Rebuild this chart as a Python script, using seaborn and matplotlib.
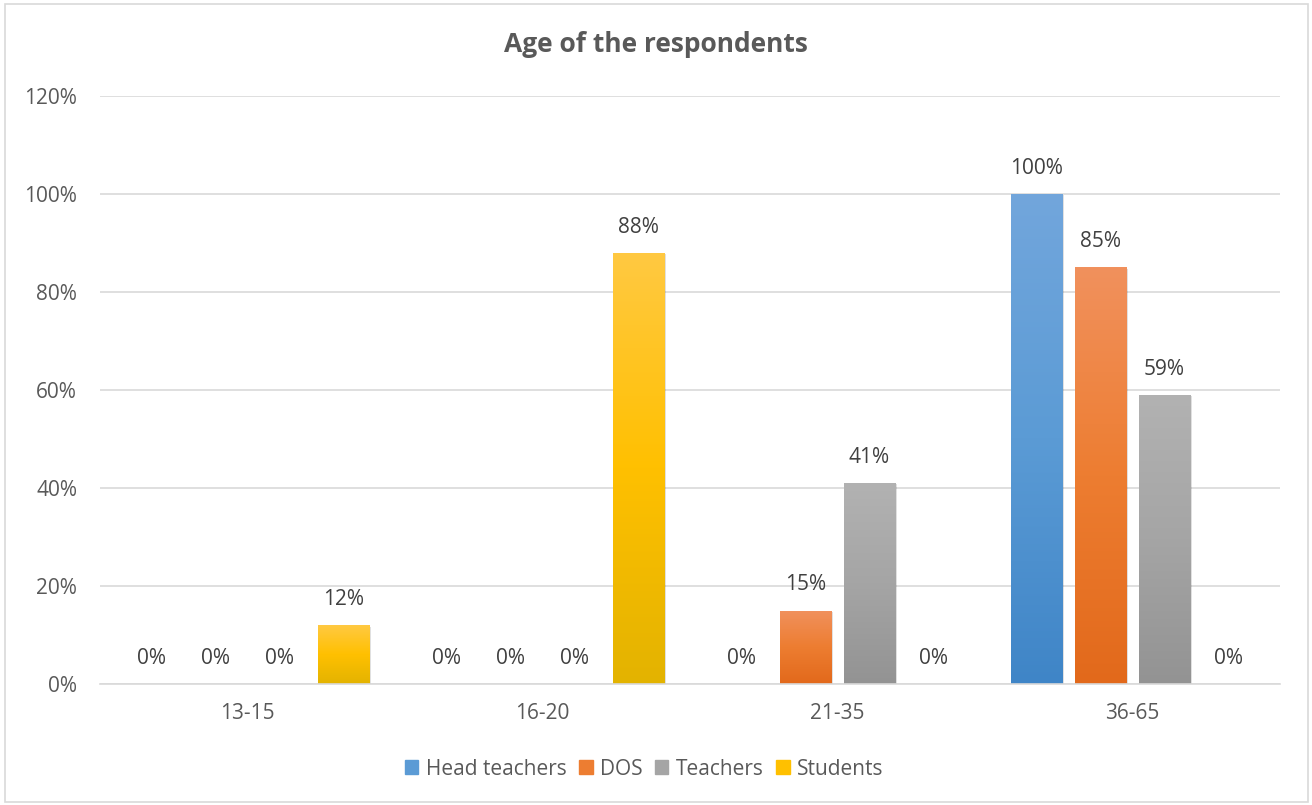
import numpy as np
import pandas as pd
import matplotlib
matplotlib.use("Agg")
import matplotlib.pyplot as plt
import matplotlib.patheffects as pe
import seaborn as sns
from matplotlib.colors import LinearSegmentedColormap
from matplotlib.patches import Rectangle

categories = ["13-15", "16-20", "21-35", "36-65"]
series = ["Head teachers", "DOS", "Teachers", "Students"]
head_teachers = [0.00, 0.00, 0.00, 1.00]
dos = [0.00, 0.00, 0.15, 0.85]
teachers = [0.00, 0.00, 0.41, 0.59]
students = [0.12, 0.88, 0.00, 0.00]
y_ticks = [0.0, 0.2, 0.4, 0.6, 0.8, 1.0, 1.2]
y_tick_labels = ["0%", "20%", "40%", "60%", "80%", "100%", "120%"]

base_colors = {"Head teachers": "#5B9BD5", "DOS": "#ED7D31", "Teachers": "#A5A5A5", "Students": "#FFC000"}
grad = {
    "Head teachers": ("#72A6DC", "#3F85C7"),
    "DOS": ("#F1915D", "#E2691B"),
    "Teachers": ("#B2B2B2", "#939393"),
    "Students": ("#FFC942", "#E3B300"),
}

df = pd.DataFrame({
    "Age": categories * 4,
    "Group": [s for s in series for _ in categories],
    "Value": head_teachers + dos + teachers + students,
})

sns.set_theme(style="white")
plt.rcParams["font.family"] = ["Open Sans", "DejaVu Sans"]
text_color = "#595959"
label_color = "#404040"
fs = 15

fig = plt.figure(figsize=(13.12, 8.05), dpi=100)
ax = fig.add_axes([100/1312, 1-684/805, 1180/1312, 588/805])

sns.barplot(data=df, x="Age", y="Value", hue="Group", order=categories, hue_order=series,
            palette=base_colors, width=0.868, gap=0.19, ax=ax, legend=False, saturation=1)

ax.set_xlim(-0.5, 3.5)
ax.set_ylim(0, 1.2)
ax.set_yticks(y_ticks)
ax.set_yticklabels(y_tick_labels)
ax.grid(axis="y", color="#D9D9D9", linewidth=1.2)
ax.set_axisbelow(True)
for s in ["top", "right", "left"]:
    ax.spines[s].set_visible(False)
ax.spines["bottom"].set_color("#D9D9D9")
ax.spines["bottom"].set_linewidth(1.2)
ax.tick_params(axis="both", length=0, labelsize=fs, colors=text_color)
ax.tick_params(axis="y", pad=16.5)
ax.tick_params(axis="x", pad=14)
ax.set_xlabel("")
ax.set_ylabel("")

# gradient fills with soft shadow
for cont, name in zip(ax.containers, series):
    cmap = LinearSegmentedColormap.from_list(name, [grad[name][1], base_colors[name], grad[name][0]])
    for patch in cont.patches:
        x0, y0 = patch.get_x(), patch.get_y()
        w, h = patch.get_width(), patch.get_height()
        if h <= 0:
            patch.set_visible(False)
            continue
        patch.set_edgecolor("none")
        patch.set_path_effects([pe.SimplePatchShadow(offset=(1, -1), shadow_rgbFace="#000000", alpha=0.12),
                                pe.Normal()])
        g = np.linspace(0, 1, 256).reshape(-1, 1)
        im = ax.imshow(g, cmap=cmap, origin="lower", aspect="auto",
                       extent=[x0, x0 + w, y0, y0 + h], zorder=2.5)
        im.set_clip_path(patch)
    ax.bar_label(cont, labels=[f"{v*100:.0f}%" for v in cont.datavalues],
                 padding=11, fontsize=fs, color=label_color)

ax.set_xlim(-0.5, 3.5)
ax.set_ylim(0, 1.2)

fig.text(0.5, 1-45/805, "Age of the respondents", ha="center", va="center",
         fontsize=19, fontweight="bold", color=text_color)

handles = [Rectangle((0, 0), 1, 1, color=base_colors[s]) for s in series]
fig.legend(handles, series, loc="center", bbox_to_anchor=(0.491, 1-769/805), ncol=4,
           frameon=False, fontsize=fs, handlelength=0.65, handleheight=0.65,
           handletextpad=0.35, columnspacing=0.6, labelcolor=text_color)

fig.patches.append(Rectangle((5/1312, 3/805), 1303/1312, 798/805, transform=fig.transFigure,
                             fill=False, edgecolor="#D9D9D9", linewidth=1.2))

fig.savefig("out.png", dpi=100)
